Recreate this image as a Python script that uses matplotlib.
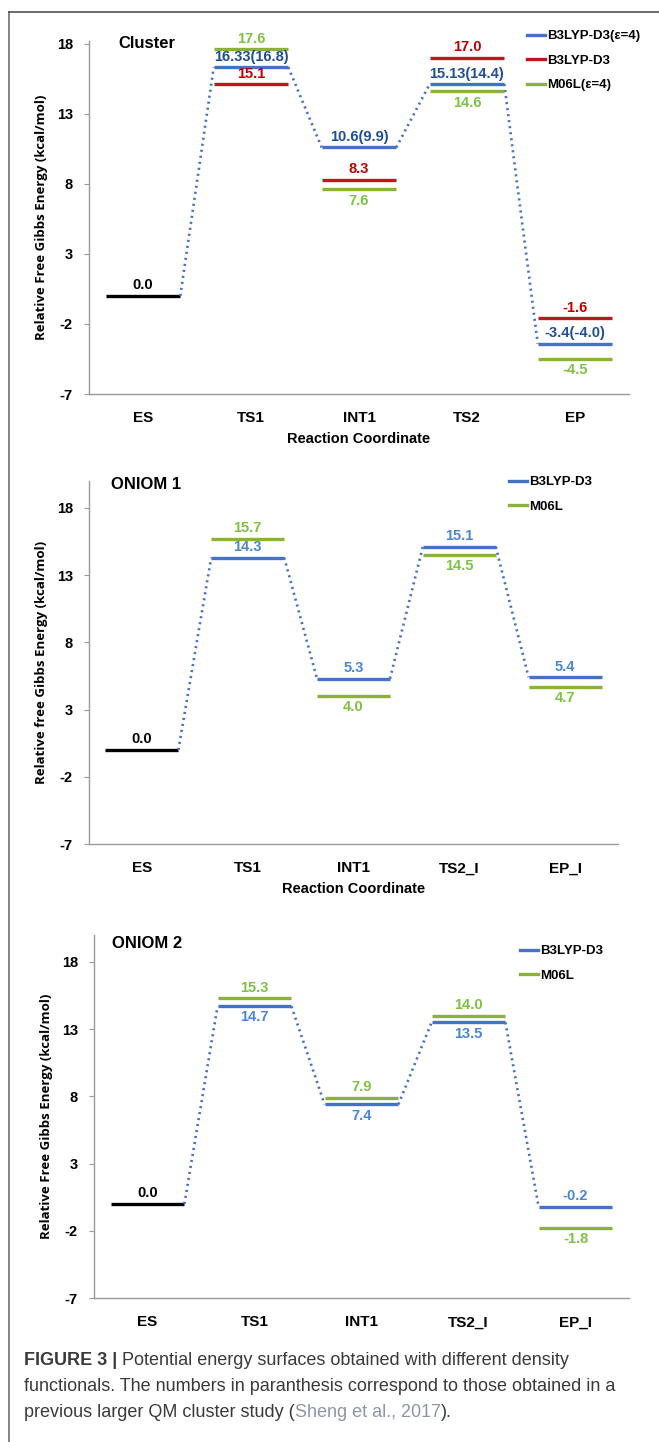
import matplotlib
matplotlib.use("Agg")
import matplotlib.pyplot as plt
from matplotlib.lines import Line2D

W, H = 659, 1442

# ---- data ----
es_value = 0.0
yticks = [-7, -2, 3, 8, 13, 18]

cluster_steps = ['ES', 'TS1', 'INT1', 'TS2', 'EP']
cluster_b3lyp_eps = [16.33, 10.6, 15.13, -3.4]
cluster_b3lyp_eps_labels = ['16.33(16.8)', '10.6(9.9)', '15.13(14.4)', '-3.4(-4.0)']
cluster_b3lyp = [15.1, 8.3, 17.0, -1.6]
cluster_m06l_eps = [17.6, 7.6, 14.6, -4.5]

oniom_steps = ['ES', 'TS1', 'INT1', 'TS2_I', 'EP_I']
oniom1_b3lyp = [14.3, 5.3, 15.1, 5.4]
oniom1_m06l = [15.7, 4.0, 14.5, 4.7]
oniom2_b3lyp = [14.7, 7.4, 13.5, -0.2]
oniom2_m06l = [15.3, 7.9, 14.0, -1.8]

BLUE = '#4472C4'
RED = '#C0171F'
GREEN = '#8BB13A'
BLUE_TXT_DARK = '#1F4E96'
BLUE_TXT = '#4A86D4'
RED_TXT = '#C00000'
GREEN_TXT = '#7DC242'
AXIS_GRAY = '#9A9A9A'

FONT = ['Liberation Sans', 'DejaVu Sans']
LABEL_FONT = ['Open Sans', 'DejaVu Sans']
plt.rcParams['font.family'] = FONT
plt.rcParams['font.weight'] = 'bold'
plt.rcParams['axes.unicode_minus'] = False

HW = 0.345  # half width of a level bar


def px_axes(fig, left, right, top, bottom):
    ax = fig.add_axes([left / W, 1 - bottom / H, (right - left) / W, (bottom - top) / H])
    ax.px_box = (left, right, top, bottom)
    return ax


def draw_panel(ax, steps, series, ylim, title, title_xy, ylabel, ylabel_x, xlabel, legend_xy):
    xs = list(range(len(steps)))
    # reference state
    ax.hlines(es_value, xs[0] - HW, xs[0] + HW, color='black', lw=2.4)
    ax.annotate(f'{es_value:.1f}', (xs[0], es_value), xytext=(0, 2.5),
                textcoords='offset points', ha='center', va='bottom',
                fontsize=10.5, color='black')
    handles = []
    for name, vals, labels, sides, lc, tc, connect in series:
        px = xs[1:]
        ax.hlines(vals, [x - HW for x in px], [x + HW for x in px], color=lc, lw=2.4)
        handles.append(Line2D([], [], color=lc, lw=2.4, label=name))
        for x, v, lab, s in zip(px, vals, labels, sides):
            if s == 'a':
                ax.annotate(lab, (x, v), xytext=(0, 2.5), textcoords='offset points',
                            ha='center', va='bottom', fontsize=10.5, color=tc)
            else:
                ax.annotate(lab, (x, v), xytext=(0, -3), textcoords='offset points',
                            ha='center', va='top', fontsize=10.5, color=tc)
        if connect:
            yy = [es_value] + list(vals)
            for i in range(len(xs) - 1):
                ax.plot([xs[i] + HW, xs[i + 1] - HW], [yy[i], yy[i + 1]],
                        color=lc, lw=1.9, linestyle=(0, (0.8, 1.5)))
    ax.set_xlim(-0.5, len(steps) - 0.5)
    ax.set_ylim(*ylim)
    ax.set_yticks(yticks)
    ax.set_xticks(xs)
    ax.set_xticklabels(steps)
    ax.tick_params(axis='x', length=0, pad=12.5, labelsize=11)
    ax.tick_params(axis='y', length=3.6, width=0.8, color=AXIS_GRAY, pad=8, labelsize=10.5)
    for sp in ['top', 'right']:
        ax.spines[sp].set_visible(False)
    for sp in ['left', 'bottom']:
        ax.spines[sp].set_color(AXIS_GRAY)
        ax.spines[sp].set_linewidth(1.0)
    left, right, top, bottom = ax.px_box
    ax.set_ylabel(ylabel, fontsize=9.5, family=LABEL_FONT, fontweight='bold')
    ax.yaxis.set_label_coords((ylabel_x - left) / (right - left), 0.5)
    if xlabel:
        ax.set_xlabel(xlabel, fontsize=10.5, fontweight='bold', labelpad=4.5)
    fig = ax.figure
    fig.text(title_xy[0] / W, 1 - title_xy[1] / H, title, fontsize=12,
             va='center', ha='left')
    ax.legend(handles=handles, loc='upper left',
              bbox_to_anchor=(legend_xy[0] / W, 1 - legend_xy[1] / H),
              bbox_transform=fig.transFigure, frameon=False, fontsize=9.5,
              handlelength=1.4, handletextpad=0.1, labelspacing=0.93, borderpad=0,
              borderaxespad=0)


fig = plt.figure(figsize=(W / 100, H / 100), dpi=100)

# figure border (left and top)
fig.add_artist(Line2D([9 / W, 9 / W], [0, 1 - 12 / H], color='#707070', lw=1.2,
                      transform=fig.transFigure))
fig.add_artist(Line2D([9 / W, 1], [1 - 12 / H, 1 - 12 / H], color='#505050', lw=1.2,
                      transform=fig.transFigure))

ax1 = px_axes(fig, 89, 629, 41, 394)
draw_panel(ax1, cluster_steps, [
    ('B3LYP-D3(ε=4)', cluster_b3lyp_eps, cluster_b3lyp_eps_labels, 'aaaa', BLUE, BLUE_TXT_DARK, True),
    ('B3LYP-D3', cluster_b3lyp, [f'{v:.1f}' for v in cluster_b3lyp], 'aaaa', RED, RED_TXT, False),
    ('M06L(ε=4)', cluster_m06l_eps, [f'{v:.1f}' for v in cluster_m06l_eps], 'abbb', GREEN, GREEN_TXT, False),
], (-7, 18.2), 'Cluster', (118, 44), 'Relative Free Gibbs Energy (kcal/mol)', 48.5,
    'Reaction Coordinate', (527, 30))

ax2 = px_axes(fig, 89, 618, 481, 844)
draw_panel(ax2, oniom_steps, [
    ('B3LYP-D3', oniom1_b3lyp, [f'{v:.1f}' for v in oniom1_b3lyp], 'aaaa', BLUE, BLUE_TXT, True),
    ('M06L', oniom1_m06l, [f'{v:.1f}' for v in oniom1_m06l], 'abbb', GREEN, GREEN_TXT, False),
], (-7, 20), 'ONIOM 1', (111, 484), 'Relative free Gibbs Energy (kcal/mol)', 48.5,
    'Reaction Coordinate', (509, 476))

ax3 = px_axes(fig, 94, 629, 935, 1298)
draw_panel(ax3, oniom_steps, [
    ('B3LYP-D3', oniom2_b3lyp, [f'{v:.1f}' for v in oniom2_b3lyp], 'bbba', BLUE, BLUE_TXT, True),
    ('M06L', oniom2_m06l, [f'{v:.1f}' for v in oniom2_m06l], 'aaab', GREEN, GREEN_TXT, False),
], (-7, 20), 'ONIOM 2', (112, 943), 'Relative Free Gibbs Energy (kcal/mol)', 53,
    None, (520, 945))

# caption
renderer = fig.canvas.get_renderer()
CAP = '#3A3A3A'
cap_kw = dict(fontsize=13, family=['Liberation Sans Narrow', 'Liberation Sans'], va='baseline')


def put(x, y, s, **kw):
    t = fig.text(x / W, 1 - y / H, s, **kw)
    bb = t.get_window_extent(renderer=renderer)
    return bb.x1 * W / fig.bbox.width


x = put(24, 1365, 'FIGURE 3 | ', fontweight='bold', color=CAP, **cap_kw)
put(x, 1365, 'Potential energy surfaces obtained with different density',
    fontweight='normal', color=CAP, **cap_kw)
put(24, 1391, 'functionals. The numbers in paranthesis correspond to those obtained in a',
    fontweight='normal', color=CAP, **cap_kw)
x = put(24, 1417, 'previous larger QM cluster study (', fontweight='normal', color=CAP, **cap_kw)
x = put(x, 1417, 'Sheng et al., 2017', fontweight='normal', color='#8C96A8', **cap_kw)
put(x, 1417, ').', fontweight='normal', color=CAP, **cap_kw)

fig.savefig('out.png', dpi=100)
